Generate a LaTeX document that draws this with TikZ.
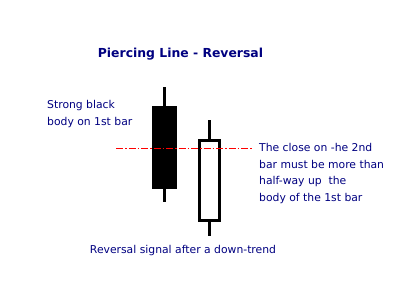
\documentclass[tikz,border=0pt]{standalone}
\usepackage{fontspec}
\setmainfont{DejaVu Sans}
\usetikzlibrary{positioning}
\definecolor{candlenavy}{RGB}{0, 0, 128}
\definecolor{candlered}{RGB}{255, 0, 0}

\begin{document}
\begin{tikzpicture}[
      x=1pt, y=-1pt,
      note/.style={text=candlenavy, align=left, font=\fontsize{10.8}{16.4}\selectfont, inner sep=0pt},
      body/.style={rectangle, draw=black, line width=3pt, inner sep=0pt},
      wick/.style={line width=3pt, black}
    ]
      \useasboundingbox (0,0) rectangle (400,282);

      \node[font=\fontsize{12.4}{14}\selectfont\bfseries, text=candlenavy] (title) at (180.5, 54.5) {Piercing Line - Reversal};

      % 1st bar (black)
      \coordinate (Btop) at (164.5, 87);
      \coordinate (Bbot) at (164.5, 202);
      \node[body, fill=black, minimum width=22pt, minimum height=80pt] (B) at (164.5, 147.5) {};
      \draw[wick] (Btop) -- (B.north);
      \draw[wick] (B.south) -- (Bbot);

      % 2nd bar (white)
      \coordinate (Wtop) at (209.5, 120);
      \coordinate (Wbot) at (209.5, 236);
      \node[body, fill=white, minimum width=20pt, minimum height=80.5pt] (W) at (209.5, 180.5) {};
      \draw[wick] (Wtop) -- (W.north);
      \draw[wick] (W.south) -- (Wbot);

      % half-way line
      \coordinate (L) at (116, 148);
      \coordinate (R) at (253, 148);
      \draw[candlered, line width=1pt, dash pattern=on 7pt off 2pt on 1.5pt off 2pt] (L) -- (R);

      \node[note, anchor=north west] (strong) at (47, 100.5) {Strong black\\body on 1st bar};
      \node[note, anchor=north west] (close) at (259, 143.5) {The close on -he 2nd\\bar must be more than\\half-way up\ \ the\\body of the 1st bar};
      \node[note] (signal) at (183, 251) {Reversal signal after a down-trend};
    \end{tikzpicture}
\end{document}
